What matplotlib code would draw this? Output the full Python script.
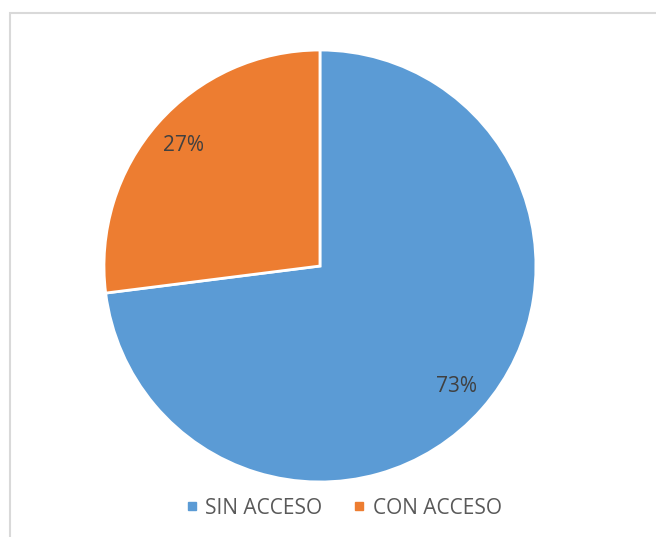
import matplotlib.pyplot as plt
from matplotlib.patches import Rectangle
from matplotlib.lines import Line2D

# Datos del gráfico
categorias = ['SIN ACCESO', 'CON ACCESO']
porcentajes = [73, 27]
colores = ['#5B9BD5', '#ED7D31']

plt.rcParams['font.family'] = ['Open Sans', 'DejaVu Sans']

fig = plt.figure(figsize=(6.56, 5.37), dpi=100)

# Marco gris del área del gráfico
fig.patches.append(Rectangle((10 / 656, -0.1), 1.2, 1.1 - 13 / 537,
                             transform=fig.transFigure, fill=False,
                             edgecolor='#D9D9D9', linewidth=1.5))

ax = fig.add_axes([0.1585, 0.1024, 0.6585, 0.8045])
wedges, textos, autotextos = ax.pie(
    porcentajes, colors=colores, startangle=90, counterclock=False,
    autopct='%1.0f%%', pctdistance=0.845,
    wedgeprops={'edgecolor': 'white', 'linewidth': 2},
    textprops={'color': '#404040', 'fontsize': 15})
ax.set_xlim(-1, 1)
ax.set_ylim(-1, 1)
ax.set_aspect('equal')

# Leyenda con marcadores cuadrados
handles = [Line2D([], [], marker='s', linestyle='none', markersize=6,
                  markerfacecolor=c, markeredgecolor=c) for c in colores]
fig.legend(handles, categorias, loc='center', bbox_to_anchor=(342 / 656, 1 - 508 / 537),
           ncol=2, frameon=False, fontsize=15, labelcolor='#595959',
           handletextpad=0.2, columnspacing=1.3, handlelength=0.9)

fig.savefig('out.png', dpi=100)
